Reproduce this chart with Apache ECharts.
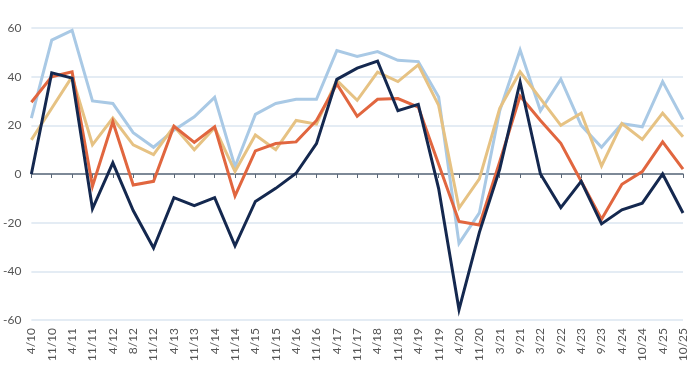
<!DOCTYPE html>
<html>
<head>
<meta charset="utf-8">
<script src="https://cdn.jsdelivr.net/npm/echarts@6/dist/echarts.min.js"></script>
<style>
html,body{margin:0;padding:0;background:#fff;}
#chart{width:691px;height:389px;}
</style>
</head>
<body>
<div id="chart"></div>
<script>
var categories = ['4/10','11/10','4/11','11/11','4/12','8/12','11/12','4/13','11/13','4/14','11/14','4/15','11/15','4/16','11/16','4/17','11/17','4/18','11/18','4/19','11/19','4/20','11/20','3/21','9/21','3/22','9/22','4/23','9/23','4/24','10/24','4/25','10/25'];
var lightBlue = [23,55,59,30,29,17,11,18,23.5,31.5,3,24.5,29,30.7,30.7,50.7,48.3,50.3,46.7,46.2,31.6,-28.5,-16,26,51,26,39,20,11,20.7,19.4,38,22.4];
var tan = [14,27,40,12,23,12,8,19.6,10,19,1,16,10,22,20.5,38.5,30.3,41.9,38,44.9,28.2,-14,-2,27,42,31,20,25,3.3,20.7,14.2,25,15.3];
var orange = [29.5,40,42,-5,21.5,-4.5,-3,19.6,13,19.4,-9,9.5,12.5,13.2,22,37,23.7,30.7,31,27.5,4,-19.5,-21,5,32,22,12.6,-3,-18.6,-4.2,1,13.2,2];
var navy = [0,41.6,39.4,-14.3,4.6,-15,-30.4,-9.7,-13,-9.7,-29.5,-11.3,-5.9,0.3,12.5,38.9,43.5,46.4,26,28.6,-6,-55.7,-24,2,37.8,0,-13.8,-3,-20.5,-14.7,-12,0,-16];
var yTicks = {min:-60, max:60, interval:20};

var font = 'Lato, "Open Sans", sans-serif';
var chart = echarts.init(document.getElementById('chart'), null, {renderer:'canvas'});
function mk(name, data, color){
  return {name:name, type:'line', data:data, xAxisIndex:0, symbol:'none', smooth:false,
    lineStyle:{color:color, width:3, join:'miter'}, itemStyle:{color:color}, animation:false};
}
chart.setOption({
  animation:false,
  backgroundColor:'#fff',
  grid:{left:30, right:8, top:28, bottom:69, containLabel:false},
  xAxis:[{
    type:'category', data:categories, boundaryGap:false, position:'bottom',
    axisLine:{show:false, onZero:false}, axisTick:{show:false},
    axisLabel:{rotate:90, interval:0, color:'#555', fontSize:12, fontFamily:font, margin:8}
  },{
    type:'category', data:categories, boundaryGap:false, position:'bottom',
    axisLine:{show:true, onZero:true, lineStyle:{color:'#5b6878', width:1.5}},
    axisTick:{show:true, inside:false, length:4, interval:0, lineStyle:{color:'#5b6878'}},
    axisLabel:{show:false}, splitLine:{show:false}
  }],
  yAxis:{
    type:'value', min:yTicks.min, max:yTicks.max, interval:yTicks.interval,
    axisLine:{show:false}, axisTick:{show:false},
    axisLabel:{color:'#555', fontSize:12, fontFamily:font, margin:10},
    splitLine:{lineStyle:{color:'#dbe6f1', width:1.5}}
  },
  series:[
    mk('A', lightBlue, '#a9c9e5'),
    mk('B', tan, '#e6c283'),
    mk('C', orange, '#e1663f'),
    mk('D', navy, '#14284f')
  ]
});
</script>
</body>
</html>
